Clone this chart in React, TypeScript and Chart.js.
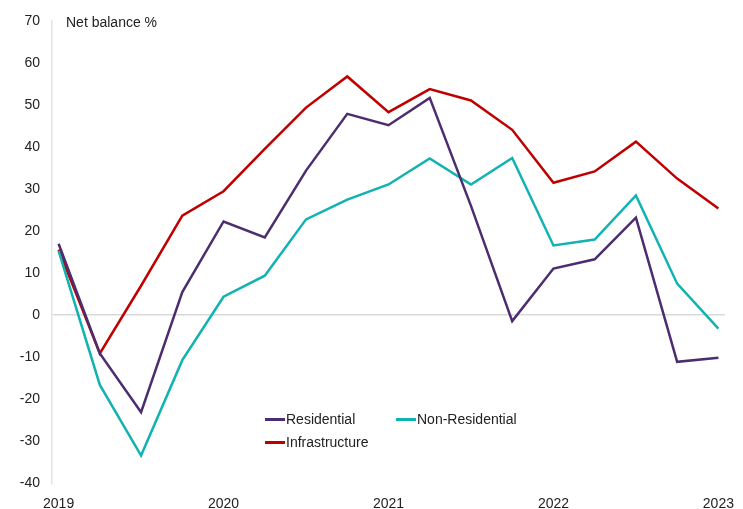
import React, { useEffect, useRef } from "react";
import { Chart, registerables } from "chart.js";

Chart.register(...registerables);

const quarters = [
  "2019 Q1", "2019 Q2", "2019 Q3", "2019 Q4",
  "2020 Q1", "2020 Q2", "2020 Q3", "2020 Q4",
  "2021 Q1", "2021 Q2", "2021 Q3", "2021 Q4",
  "2022 Q1", "2022 Q2", "2022 Q3", "2022 Q4",
  "2023 Q1",
];
const yearTicks = ["2019", "2020", "2021", "2022", "2023"];

const residential = [17.0, -9.1, -23.1, 5.5, 22.3, 18.5, 34.4, 47.9, 45.2, 51.7, 26.0, -1.4, 11.1, 13.3, 23.2, -11.1, -10.1];
const nonResidential = [15.3, -16.6, -33.4, -10.7, 4.4, 9.4, 22.8, 27.5, 31.1, 37.3, 31.1, 37.4, 16.6, 18.0, 28.5, 7.5, -3.2];
const infrastructure = [15.6, -9.1, 7.0, 23.7, 29.5, 39.6, 49.4, 56.8, 48.3, 53.8, 51.1, 44.1, 31.5, 34.2, 41.3, 32.5, 25.4];

const seriesNames = ["Residential", "Non-Residential", "Infrastructure"];
const seriesColors = ["#4b2d70", "#10b2b2", "#c00000"];

const FONT = "'Liberation Sans', Arial, sans-serif";

function toPoints(values: number[]) {
  return values.map((v, i) => ({ x: i, y: v }));
}

export default function App() {
  const canvasRef = useRef<HTMLCanvasElement | null>(null);

  useEffect(() => {
    if (!canvasRef.current) return;
    const allSeries = [residential, nonResidential, infrastructure];
    const chart = new Chart(canvasRef.current, {
      type: "line",
      data: {
        datasets: allSeries.map((vals, i) => ({
          label: seriesNames[i],
          data: toPoints(vals),
          borderColor: seriesColors[i],
          backgroundColor: seriesColors[i],
          borderWidth: 2.5,
          pointRadius: 0,
          tension: 0,
          fill: false,
        })),
      },
      options: {
        animation: false,
        responsive: false,
        maintainAspectRatio: false,
        layout: { padding: { top: 21, right: 18, left: 0, bottom: 0 } },
        plugins: {
          legend: { display: false },
          tooltip: { enabled: false },
          title: { display: false },
        },
        scales: {
          x: {
            type: "linear",
            min: -0.16,
            max: 16.16,
            afterBuildTicks: (scale: any) => {
              scale.ticks = yearTicks.map((_, i) => ({ value: i * 4 }));
            },
            afterFit: (scale: any) => {
              scale.height = 25.7;
              scale.paddingLeft = 0;
              scale.paddingRight = 0;
            },
            ticks: {
              autoSkip: false,
              maxRotation: 0,
              padding: 12,
              color: "#222",
              font: { family: FONT, size: 14 },
              callback: (v: any) => {
                const idx = Math.round(Number(v) / 4);
                return yearTicks[idx] ?? "";
              },
            },
            grid: { display: false, drawTicks: false },
            border: { display: false },
          },
          y: {
            min: -40,
            max: 70,
            afterFit: (scale: any) => {
              scale.width = 52;
            },
            ticks: {
              stepSize: 10,
              padding: 12,
              color: "#222",
              font: { family: FONT, size: 14 },
            },
            grid: {
              drawTicks: false,
              lineWidth: 1.5,
              color: (ctx: any) =>
                ctx.tick && ctx.tick.value === 0 ? "#d9d9d9" : "rgba(0,0,0,0)",
            },
            border: { display: true, color: "#e3e3e3", width: 1.5 },
          },
        },
      },
    });
    return () => chart.destroy();
  }, []);

  const legendText: React.CSSProperties = {
    position: "absolute",
    fontFamily: FONT,
    fontSize: 14,
    color: "#222",
    lineHeight: "16px",
    whiteSpace: "nowrap",
  };
  const legendLine = (color: string, left: number, top: number): React.CSSProperties => ({
    position: "absolute",
    left,
    top,
    width: 20,
    height: 3,
    background: color,
  });

  return (
    <div style={{ position: "absolute", left: 0, top: 0, width: 743, height: 509, background: "#fff" }}>
      <canvas ref={canvasRef} width={743} height={509} style={{ display: "block", width: 743, height: 509 }} />
      <div style={{ ...legendText, left: 66, top: 14 }}>Net balance %</div>
      <div style={legendLine(seriesColors[0], 265, 417.5)} />
      <div style={{ ...legendText, left: 286, top: 411 }}>{seriesNames[0]}</div>
      <div style={legendLine(seriesColors[1], 396, 417.5)} />
      <div style={{ ...legendText, left: 417, top: 411 }}>{seriesNames[1]}</div>
      <div style={legendLine(seriesColors[2], 265, 440.5)} />
      <div style={{ ...legendText, left: 286, top: 434 }}>{seriesNames[2]}</div>
    </div>
  );
}
